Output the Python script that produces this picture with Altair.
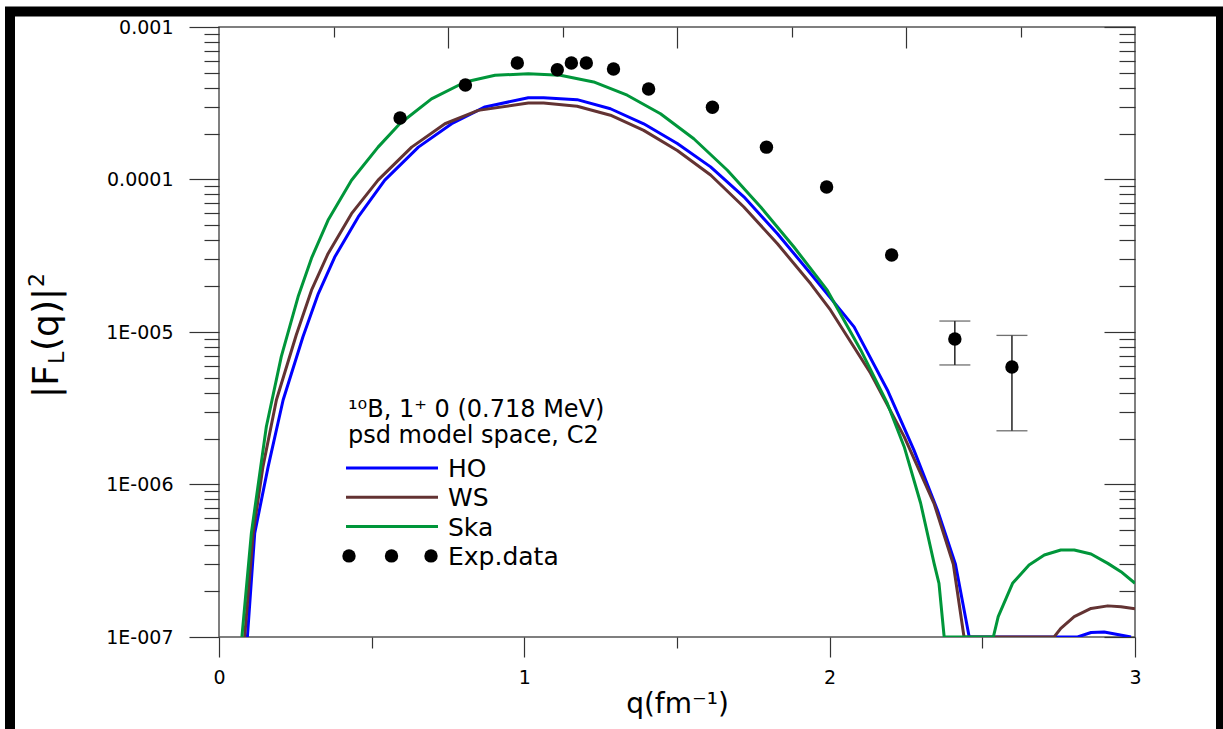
import math
import altair as alt
import pandas as pd

FONT = "DejaVu Sans"

# ---------------- data ----------------
ho_q = [0.093, 0.117, 0.161, 0.210, 0.275, 0.325, 0.379, 0.456, 0.543, 0.653, 0.762, 0.871,
        1.013, 1.063, 1.173, 1.282, 1.391, 1.501, 1.610, 1.719, 1.829, 1.938, 2.080, 2.189,
        2.276, 2.353, 2.412, 2.457, 2.812, 2.856, 2.899, 2.943, 2.987]
ho_f = [1e-7, 4.8e-7, 1.31e-6, 3.58e-6, 9.3e-6, 1.78e-5, 3.10e-5, 5.68e-5, 9.9e-5, 1.63e-4, 2.32e-4, 2.99e-4,
        3.44e-4, 3.44e-4, 3.34e-4, 2.91e-4, 2.32e-4, 1.72e-4, 1.21e-4, 7.7e-5, 4.41e-5, 2.41e-5, 1.08e-5, 4.17e-6,
        1.68e-6, 6.8e-7, 3.0e-7, 1e-7, 1e-7, 1.07e-7, 1.08e-7, 1.04e-7, 1e-7]

ws_q = [0.084, 0.112, 0.144, 0.188, 0.253, 0.303, 0.357, 0.434, 0.521, 0.631, 0.740, 0.849,
        1.013, 1.063, 1.173, 1.282, 1.391, 1.501, 1.610, 1.719, 1.829, 1.938, 2.003, 2.134,
        2.244, 2.342, 2.405, 2.440, 2.735, 2.757, 2.801, 2.856, 2.911, 2.954, 3.0]
ws_f = [1e-7, 4.8e-7, 1.31e-6, 3.58e-6, 9.55e-6, 1.88e-5, 3.26e-5, 5.97e-5, 9.9e-5, 1.63e-4, 2.32e-4, 2.84e-4,
        3.17e-4, 3.17e-4, 3.02e-4, 2.64e-4, 2.10e-4, 1.55e-4, 1.07e-4, 6.6e-5, 3.79e-5, 2.07e-5, 1.39e-5, 5.36e-6,
        2.06e-6, 7.5e-7, 3.0e-7, 1e-7, 1e-7, 1.14e-7, 1.36e-7, 1.54e-7, 1.60e-7, 1.58e-7, 1.53e-7]

ska_q = [0.075, 0.106, 0.155, 0.204, 0.259, 0.303, 0.357, 0.434, 0.521, 0.592, 0.696, 0.806,
         0.904, 1.013, 1.118, 1.227, 1.337, 1.446, 1.555, 1.665, 1.774, 1.883, 1.992, 2.102,
         2.189, 2.244, 2.298, 2.342, 2.358, 2.375, 2.536, 2.552, 2.599, 2.653, 2.703, 2.757,
         2.801, 2.856, 2.911, 2.954, 3.0]
ska_f = [1e-7, 4.79e-7, 2.39e-6, 6.89e-6, 1.70e-5, 3.05e-5, 5.40e-5, 9.88e-5, 1.63e-4, 2.32e-4, 3.38e-4, 4.36e-4,
         4.82e-4, 4.94e-4, 4.82e-4, 4.36e-4, 3.57e-4, 2.70e-4, 1.85e-4, 1.15e-4, 6.61e-5, 3.61e-5, 1.88e-5, 7.6e-6,
         3.40e-6, 1.77e-6, 7.53e-7, 3.04e-7, 2.25e-7, 1e-7, 1e-7, 1.36e-7, 2.25e-7, 2.97e-7, 3.45e-7, 3.72e-7,
         3.72e-7, 3.50e-7, 3.04e-7, 2.68e-7, 2.25e-7]

exp_q = [0.593, 0.807, 0.977, 1.108, 1.154, 1.203, 1.292, 1.407, 1.616, 1.793, 1.990, 2.203, 2.410, 2.597]
exp_f = [2.53e-4, 4.17e-4, 5.81e-4, 5.25e-4, 5.81e-4, 5.81e-4, 5.30e-4, 3.92e-4, 2.98e-4, 1.63e-4,
         8.93e-5, 3.2e-5, 9.0e-6, 5.89e-6]

err_q = [2.410, 2.597]
err_lo = [6.08e-6, 2.25e-6]
err_hi = [1.18e-5, 9.5e-6]

series_names = ["HO", "WS", "Ska"]
series_colors = ["#0000ff", "#633333", "#00963a"]
exp_label = "Exp.data"

x_tick_values = [0, 1, 2, 3]
x_minor_values = [0.5, 1.5, 2.5]
top_major_values = [0.75, 1.5, 2.25]
top_minor_values = [0.375, 1.125, 1.875, 2.625]
y_tick_values = [1e-7, 1e-6, 1e-5, 1e-4, 1e-3]
y_tick_labels = ["1E-007", "1E-006", "1E-005", "0.0001", "0.001"]
y_minor_values = [k * d for d in [1e-7, 1e-6, 1e-5, 1e-4] for k in range(2, 10)]

header_lines = ["\u00b9\u2070B, 1\u207a 0 (0.718 MeV)", "psd model space, C2"]
x_title = "q(fm\u207b\u00b9)"
y_title_parts = ["|F", "L", "(q)|", "2"]

# ---------------- chart ----------------
W, H = 916, 610
XS = alt.Scale(domain=[0, 3], nice=False, zero=False)
YS = alt.Scale(type="log", domain=[1e-7, 1e-3], nice=False)

exp0 = round(math.log10(y_tick_values[0]))
y_label_expr = "[" + ",".join("'%s'" % s for s in y_tick_labels) + "][round(log(datum.value)/LN10)-(%d)]" % exp0

common = dict(grid=False, domain=False, tickColor="#333", tickWidth=1.2, labelFlush=False)

x_main_axis = alt.Axis(orient="bottom", values=x_tick_values, tickSize=20, labelPadding=11, labelFont=FONT,
                       labelFontSize=19, labelColor="black", format=".0f", title=x_title, titleFont=FONT,
                       titleFontSize=28, titleFontWeight="normal", titleColor="black", titlePadding=3, **common)
y_main_axis = alt.Axis(orient="left", values=y_tick_values, tickSize=30, labelPadding=16, labelFont=FONT,
                       labelFontSize=19, labelColor="black", labelExpr=y_label_expr, title=None,
                       labelOverlap=False, **common)


def curve_df(q, f):
    return pd.DataFrame({"q": q, "F": f})


curves_data = [curve_df(ho_q, ho_f), curve_df(ws_q, ws_f), curve_df(ska_q, ska_f)]

layers = []
for i, (df, col) in enumerate(zip(curves_data, series_colors)):
    ax_x = x_main_axis if i == 0 else None
    ax_y = y_main_axis if i == 0 else None
    layers.append(
        alt.Chart(df).mark_line(color=col, strokeWidth=3, clip=True, strokeJoin="round").encode(
            x=alt.X("q:Q", scale=XS, axis=ax_x),
            y=alt.Y("F:Q", scale=YS, axis=ax_y),
        )
    )

frame_df = pd.DataFrame({"q": [0, 3], "F": [1e-7, 1e-3]})


def tick_layer(xaxis, yaxis):
    return alt.Chart(frame_df).mark_point(opacity=0, size=1).encode(
        x=alt.X("q:Q", scale=XS, axis=xaxis),
        y=alt.Y("F:Q", scale=YS, axis=yaxis),
    )


# minor ticks bottom / left (outward)
layers.append(tick_layer(
    alt.Axis(orient="bottom", values=x_minor_values, tickSize=11, labels=False, title=None, **common),
    alt.Axis(orient="left", values=y_minor_values, tickSize=15, labels=False, title=None, **common),
))
# top / right major ticks (inward)
layers.append(tick_layer(
    alt.Axis(orient="bottom", offset=-H, values=top_major_values, tickSize=21, labels=False, title=None, **common),
    alt.Axis(orient="left", offset=-W, values=y_tick_values, tickSize=31, labels=False, title=None, **common),
))
# top / right minor ticks (inward)
layers.append(tick_layer(
    alt.Axis(orient="bottom", offset=-H, values=top_minor_values, tickSize=10, labels=False, title=None, **common),
    alt.Axis(orient="left", offset=-W, values=y_minor_values, tickSize=16, labels=False, title=None, **common),
))

# error bars
err_df = pd.DataFrame({"q": err_q, "lo": err_lo, "hi": err_hi})
layers.append(alt.Chart(err_df).mark_rule(color="black", strokeWidth=1.3).encode(
    x=alt.X("q:Q", scale=XS, axis=None), y=alt.Y("lo:Q", scale=YS, axis=None), y2="hi:Q"))
for col_name in ["lo", "hi"]:
    layers.append(alt.Chart(err_df).mark_tick(orient="horizontal", size=31, thickness=1.3, color="#333").encode(
        x=alt.X("q:Q", scale=XS, axis=None), y=alt.Y(col_name + ":Q", scale=YS, axis=None)))

# experimental points
exp_df = pd.DataFrame({"q": exp_q, "F": exp_f})
layers.append(alt.Chart(exp_df).mark_circle(color="black", opacity=1, size=180).encode(
    x=alt.X("q:Q", scale=XS, axis=None), y=alt.Y("F:Q", scale=YS, axis=None)))

one = pd.DataFrame({"k": [0]})

# legend block (inside plot)
LX, LY0 = 129, 390
for j, line in enumerate(header_lines):
    layers.append(alt.Chart(one).mark_text(text=line, font=FONT, fontSize=24, align="left",
                                           baseline="alphabetic", color="black").encode(
        x=alt.value(LX), y=alt.value(LY0 + 26 * j)))
ENTRY_Y0, ENTRY_DY = 441, 29.3
for j, (name, col) in enumerate(zip(series_names, series_colors)):
    yy = ENTRY_Y0 + ENTRY_DY * j
    layers.append(alt.Chart(one).mark_rule(color=col, strokeWidth=3).encode(
        x=alt.value(127), x2=alt.value(219), y=alt.value(yy)))
    layers.append(alt.Chart(one).mark_text(text=name, font=FONT, fontSize=25, align="left",
                                           baseline="middle", color="black").encode(
        x=alt.value(229), y=alt.value(yy + 1)))
yy = ENTRY_Y0 + ENTRY_DY * 3
for dx in [130, 172.5, 212]:
    layers.append(alt.Chart(one).mark_circle(color="black", opacity=1, size=180).encode(
        x=alt.value(dx), y=alt.value(yy)))
layers.append(alt.Chart(one).mark_text(text=exp_label, font=FONT, fontSize=25, align="left",
                                       baseline="middle", color="black").encode(
    x=alt.value(229), y=alt.value(yy + 1)))

# rotated y-axis title with subscript / superscript
title_specs = [  # (text index, x, y, size)
    (0, -161, 371, 36),
    (1, -155, 337, 22),
    (2, -161, 324, 36),
    (3, -175, 260, 22),
]
for idx, tx, ty, fs in title_specs:
    layers.append(alt.Chart(one).mark_text(text=y_title_parts[idx], font=FONT, fontSize=fs, angle=270,
                                           align="left", baseline="alphabetic", color="black").encode(
        x=alt.value(tx), y=alt.value(ty)))

# heavy black frame of the figure
layers.append(alt.Chart(one).mark_rect(fillOpacity=0, stroke="black", strokeWidth=10).encode(
    x=alt.value(-209), x2=alt.value(1002), y=alt.value(-15.5), y2=alt.value(720)))

chart = alt.layer(*layers).resolve_axis(x="independent", y="independent").properties(
    width=W, height=H,
    autosize=alt.AutoSizeParams(type="none"),
    padding={"left": 219, "top": 27, "right": 1223 - 219 - W, "bottom": 729 - 27 - H},
    background="white",
).configure_view(stroke="#555", strokeWidth=1.5)

chart.save("out.html", embed_options={"renderer": "svg", "actions": False})
